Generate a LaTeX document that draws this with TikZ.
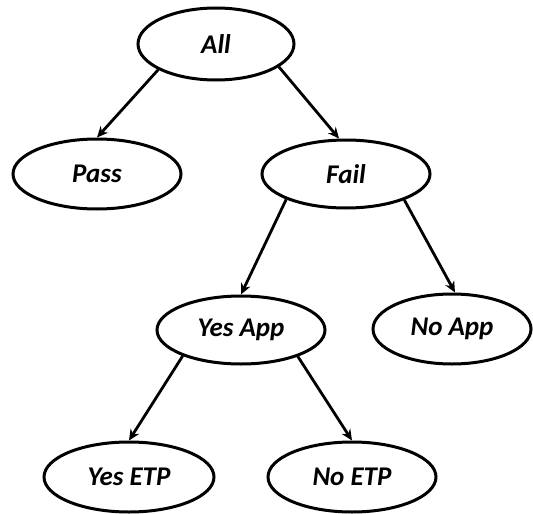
\documentclass[tikz,border=0pt]{standalone}
\usepackage{fontspec}
\setmainfont{Carlito}
\usetikzlibrary{shapes.geometric,arrows.meta}
\begin{document}
\begin{tikzpicture}[x=1pt,y=-1pt,
  oval/.style={ellipse,draw,line width=3pt,inner sep=0pt,
    font=\fontsize{27}{32}\selectfont\bfseries\itshape},
  conn/.style={line width=2.8pt,-{Stealth[length=11pt,width=10pt]}}]
\useasboundingbox (0,0) rectangle (533,514);
\node[oval,minimum width=156pt,minimum height=72pt] (all) at (216,44) {All};
\node[oval,minimum width=168pt,minimum height=70pt] (pass) at (97,174) {Pass};
\node[oval,minimum width=168pt,minimum height=68pt] (fail) at (346,174) {Fail};
\node[oval,minimum width=168pt,minimum height=68pt] (yesapp) at (241,330) {Yes App};
\node[oval,minimum width=158pt,minimum height=70pt] (noapp) at (452,329) {No App};
\node[oval,minimum width=170pt,minimum height=70pt] (yesetp) at (129,477) {Yes ETP};
\node[oval,minimum width=168pt,minimum height=70pt] (noetp) at (352,477) {No ETP};
\draw[conn] (all.204) -- (pass.north);
\draw[conn] (all.340) -- ([xshift=-7pt]fail.north);
\draw[conn] (fail.203) -- (yesapp.north);
\draw[conn] (fail.336) -- ([xshift=3pt]noapp.north);
\draw[conn] (yesapp.204) -- (yesetp.north);
\draw[conn] (yesapp.335) -- (noetp.north);
\end{tikzpicture}
\end{document}
